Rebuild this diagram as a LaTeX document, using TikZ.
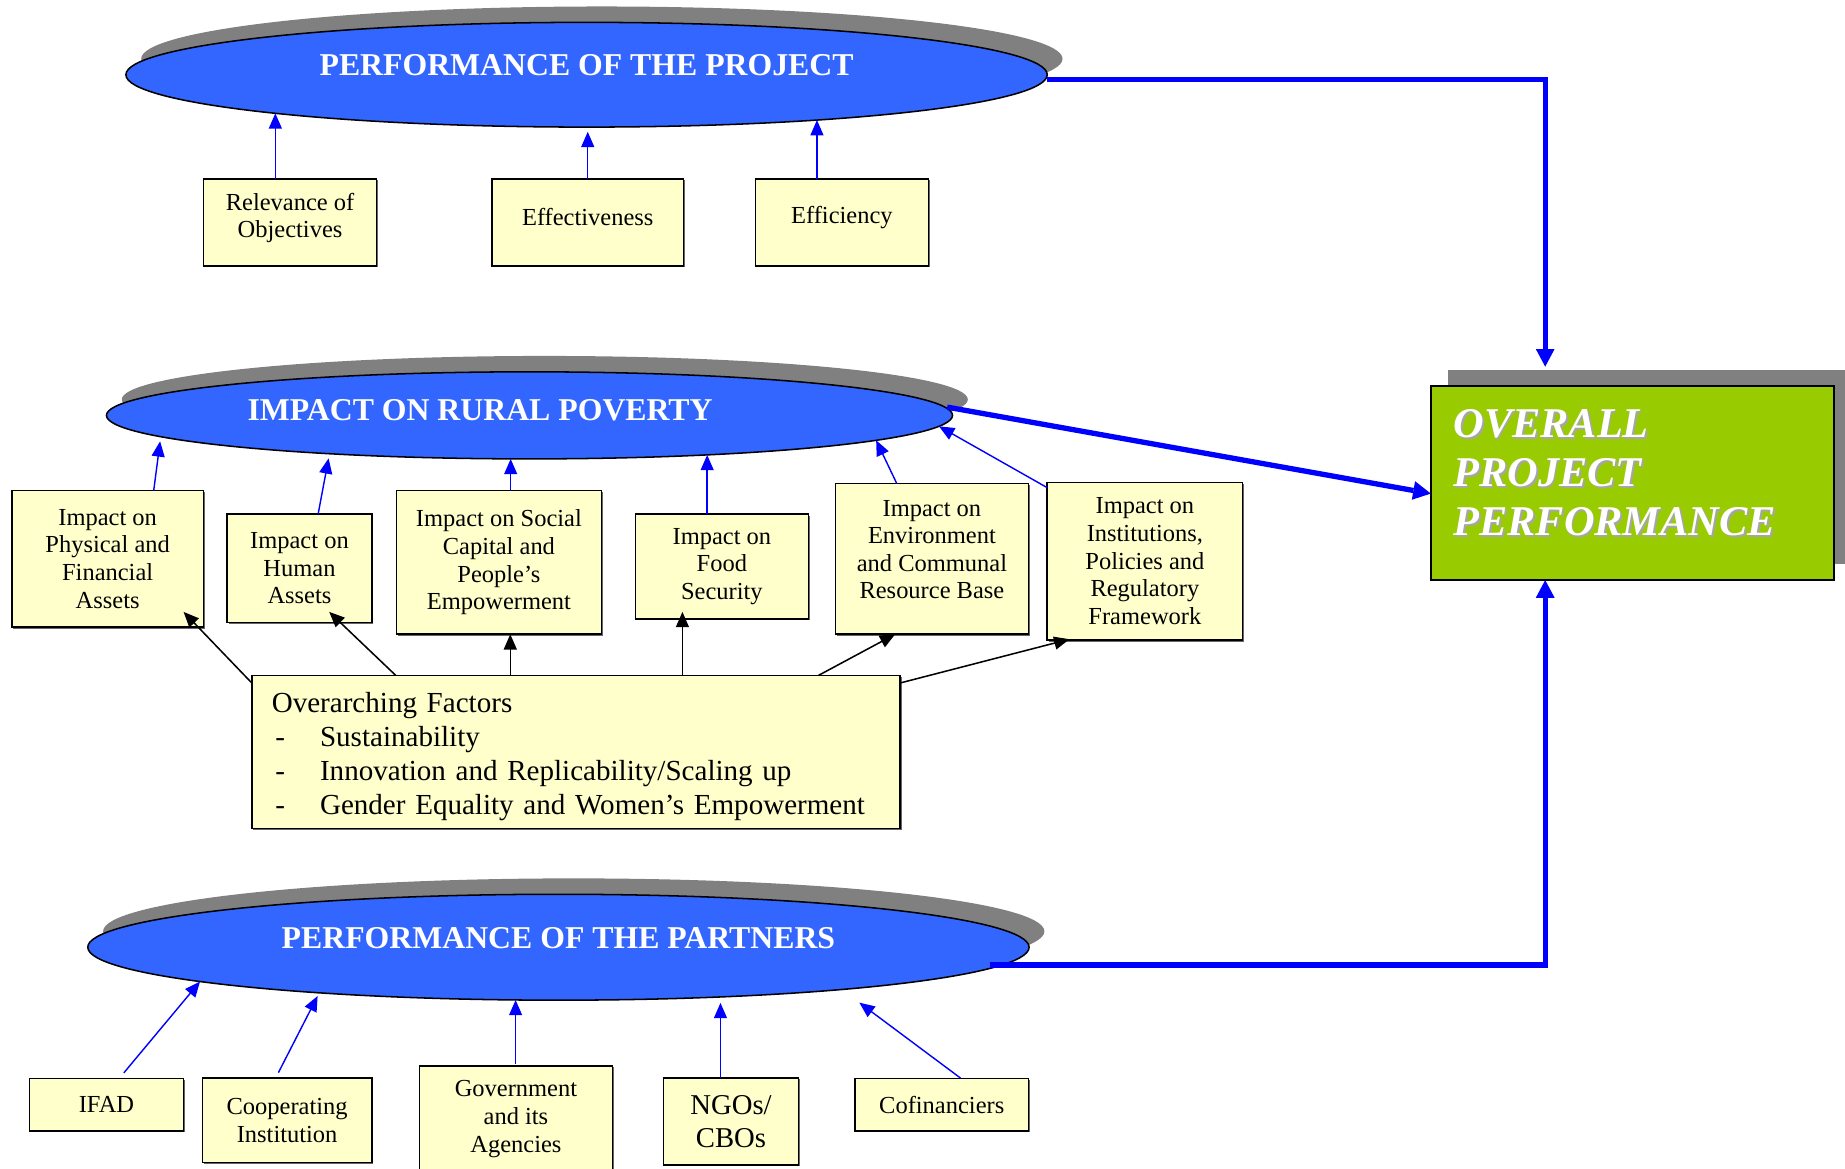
\documentclass[tikz,border=0pt]{standalone}
\usepackage{fontspec}
\setmainfont{Liberation Serif}
\usetikzlibrary{arrows.meta, shapes.geometric, shadows}
\definecolor{ovalblue}{HTML}{3366FF}
\definecolor{boxyellow}{HTML}{FFFFCC}
\definecolor{limegreen}{HTML}{99CC00}
\definecolor{shadegray}{HTML}{808080}
\newcommand{\embossed}[1]{\makebox[0pt][l]{\hspace{1.5pt}\raisebox{-1.5pt}{\textcolor{shadegray!70}{#1}}}#1}
\tikzstyle{oval} = [ellipse, draw=black, line width=1.3pt, fill=ovalblue, inner sep=0pt, outer sep=0pt, drop shadow={shadow xshift=13pt, shadow yshift=13.5pt, fill=shadegray, opacity=1}]
\tikzstyle{ovaltext} = [text=white, inner sep=0pt, font=\fontsize{27}{30}\selectfont\bfseries]
\tikzstyle{factor} = [rectangle, draw=black, line width=1.3pt, fill=boxyellow, align=center, inner sep=0pt, outer sep=0pt, font=\fontsize{20.8}{23.5}\selectfont, drop shadow={shadow xshift=1.2pt, shadow yshift=-1.2pt, fill=black!60, opacity=1}]
\tikzstyle{overall} = [rectangle, draw=black, line width=1.8pt, fill=limegreen, inner sep=0pt, outer sep=0pt, drop shadow={shadow xshift=15pt, shadow yshift=13.5pt, fill=shadegray, opacity=1}]
\tikzstyle{overalltext} = [text=white, inner sep=0pt, align=left, font=\fontsize{36}{41.5}\selectfont\bfseries\itshape]
\tikzstyle{bluearrow} = [draw=blue, line width=1.2pt, -{Triangle[length=13pt,width=11pt]}]
\tikzstyle{blackarrow} = [draw=black, line width=1.3pt, -{Triangle[length=13pt,width=11pt]}]
\tikzstyle{mainarrow} = [draw=blue, line width=4.5pt, -{Triangle[length=15pt,width=16pt,line width=0pt]}]

\begin{document}
\begin{tikzpicture}[x=1pt,y=-1pt]
      \useasboundingbox (0,0) rectangle (1568,993);
      %%%%%%%%%%%%%%%%%%%%%%%%%%%%%%%%%%%%%%%
      \node[oval, minimum width=783pt, minimum height=89pt, label={[ovaltext, yshift=8.5pt]center:PERFORMANCE OF THE PROJECT}] (prj) at (498.5,63.5) {};
      \node[oval, minimum width=719pt, minimum height=74pt, label={[ovaltext, xshift=-42pt, yshift=4pt]center:IMPACT ON RURAL POVERTY}] (rip) at (450,353) {};
      \node[oval, minimum width=800pt, minimum height=90pt, label={[ovaltext, yshift=8pt]center:PERFORMANCE OF THE PARTNERS}] (ptn) at (474.6,805) {};
      \node[overall, minimum width=343pt, minimum height=165pt, label={[overalltext, anchor=west, xshift=19pt, yshift=8pt]west:\embossed{OVERALL}\\\embossed{PROJECT}\\\embossed{PERFORMANCE}}] (ovl) at (1387.5,410.5) {};
      %%%%%%%%%%%%%%%%%%%%%%%%%%%%%%%%%%%%%%%
      % points on the rims of the ovals
      \coordinate (p1) at ([shift={(-264.5,32.8)}]prj.center);
      \coordinate (p3) at ([shift={(195.8,38.5)}]prj.center);
      \coordinate (r1) at ([shift={(-313.4,18.1)}]rip.center);
      \coordinate (r2) at ([shift={(-170,32.6)}]rip.center);
      \coordinate (r3) at ([shift={(-16,37)}]rip.center);
      \coordinate (r4) at ([shift={(151,33.6)}]rip.center);
      \coordinate (r5) at ([shift={(294.6,21.2)}]rip.center);
      \coordinate (r6) at ([shift={(348,9.3)}]rip.center);
      \coordinate (r7) at ([shift={(355,-7)}]rip.center);
      \coordinate (q1) at ([shift={(-304.6,29.2)}]ptn.center);
      \coordinate (q2) at ([shift={(-203.3,38.8)}]ptn.center);
      \coordinate (q3) at ([shift={(-36.4,44.8)}]ptn.center);
      \coordinate (q4) at ([shift={(137.7,42.3)}]ptn.center);
      \coordinate (q5) at ([shift={(255.7,47.1)}]ptn.center);
      \coordinate (q6) at ([shift={(366.4,15)}]ptn.center);
      %%%%%%%%%%%%%%%%%%%%%%%%%%%%%%%%%%%%%%%
      \node[factor, minimum width=147pt, minimum height=74pt, text depth=12pt] (rel) at (246.5,189) {Relevance of\\Objectives};
      \node[factor, minimum width=163pt, minimum height=74pt, text depth=9pt] (eff) at (499.5,189) {Effectiveness};
      \node[factor, minimum width=147pt, minimum height=74pt, text depth=12.5pt] (efc) at (715.5,189) {Efficiency};
      %%%%%%%%%%%%%%%%%%%%%%%%%%%%%%%%%%%%%%%
      \node[factor, minimum width=163pt, minimum height=116pt] (b1) at (91.5,475) {Impact on\\Physical and\\Financial\\Assets};
      \node[factor, minimum width=123pt, minimum height=92pt] (b2) at (254.5,483) {Impact on\\Human\\Assets};
      \node[factor, minimum width=174pt, minimum height=122pt] (b3) at (424,478) {Impact on Social\\Capital and\\People’s\\Empowerment};
      \node[factor, minimum width=147pt, minimum height=89pt] (b4) at (613.5,481.5) {Impact on\\Food\\Security};
      \node[factor, minimum width=164pt, minimum height=128pt, text depth=16pt] (b5) at (792,475) {Impact on\\Environment\\and Communal\\Resource Base};
      \node[factor, minimum width=166pt, minimum height=134pt] (b6) at (973,477) {Impact on\\Institutions,\\Policies and\\Regulatory\\Framework};
      \node[factor, text width=517pt, inner xsep=17pt, minimum height=130pt, align=left, text height=25pt, font=\fontsize{24.7}{28.7}\selectfont] (ovr) at (489.5,639) {Overarching Factors\\
        \hspace*{3pt}\makebox[38pt][l]{-}Sustainability\\
        \hspace*{3pt}\makebox[38pt][l]{-}Innovation and Replicability/Scaling up\\
        \hspace*{3pt}\makebox[38pt][l]{-}Gender Equality and Women’s Empowerment};
      %%%%%%%%%%%%%%%%%%%%%%%%%%%%%%%%%%%%%%%
      \node[factor, minimum width=131pt, minimum height=44.6pt] (ifad) at (90.5,938.7) {IFAD};
      \node[factor, minimum width=144pt, minimum height=72pt] (coop) at (244,952) {Cooperating\\Institution};
      \node[factor, minimum width=164pt, minimum height=90pt] (gov) at (438.5,951) {Government\\and its\\Agencies};
      \node[factor, minimum width=114.5pt, minimum height=74pt, font=\fontsize{24.4}{28}\selectfont] (ngo) at (621.25,953) {NGOs/\\CBOs};
      \node[factor, minimum width=147.3pt, minimum height=44.6pt] (cofin) at (800.35,938.7) {Cofinanciers};
      %%%%%%%%%%%%%%%%%%%%%%%%%%%%%%%%%%%%%%%
      \draw[bluearrow] (rel.north -| p1) -- (p1);
      \draw[bluearrow, shorten >=4pt] (eff.north) -- (eff.north |- prj.south);
      \draw[bluearrow] (efc.north -| p3) -- (p3);
      \draw[bluearrow, shorten >=4pt] (b1.56) -- (r1);
      \draw[bluearrow, shorten >=4pt] (b2.71) -- (r2);
      \draw[bluearrow] (b3.north -| r3) -- (r3);
      \draw[bluearrow] (b4.north -| r4) -- (r4);
      \draw[bluearrow] (b5.115) -- (r5);
      \draw[bluearrow] (b6.143) -- (r6);
      \draw[bluearrow, shorten <=6pt] (ifad.64) -- (q1);
      \draw[bluearrow, shorten <=5pt, shorten >=3pt] (coop.105) -- (q2);
      \draw[bluearrow, shorten <=2pt] (gov.north -| q3) -- (q3);
      \draw[bluearrow, shorten >=5pt] (ngo.north -| q4) -- (q4);
      \draw[bluearrow] (cofin.54) -- (q5);
      %%%%%%%%%%%%%%%%%%%%%%%%%%%%%%%%%%%%%%%
      \draw[blackarrow, shorten >=-18pt] (ovr.168) -- (b1.323);
      \draw[blackarrow, shorten >=-13pt] (ovr.157) -- (b2.307);
      \draw[blackarrow] (ovr.north -| b3.279) -- (b3.279);
      \draw[blackarrow, shorten >=-6pt] (ovr.north -| b4.233) -- (b4.233);
      \draw[blackarrow] ([xshift=6pt]ovr.18) -- (b5.244);
      \draw[blackarrow, shorten >=-3pt] (ovr.12) -- (b6.225);
      %%%%%%%%%%%%%%%%%%%%%%%%%%%%%%%%%%%%%%%
      \draw[mainarrow, shorten >=16.4pt] ([yshift=-4pt]prj.east) -| (ovl.132);
      \draw[mainarrow] (r7) -- (ovl.183);
      \draw[mainarrow] (q6) -| (ovl.228);
\end{tikzpicture}
\end{document}
